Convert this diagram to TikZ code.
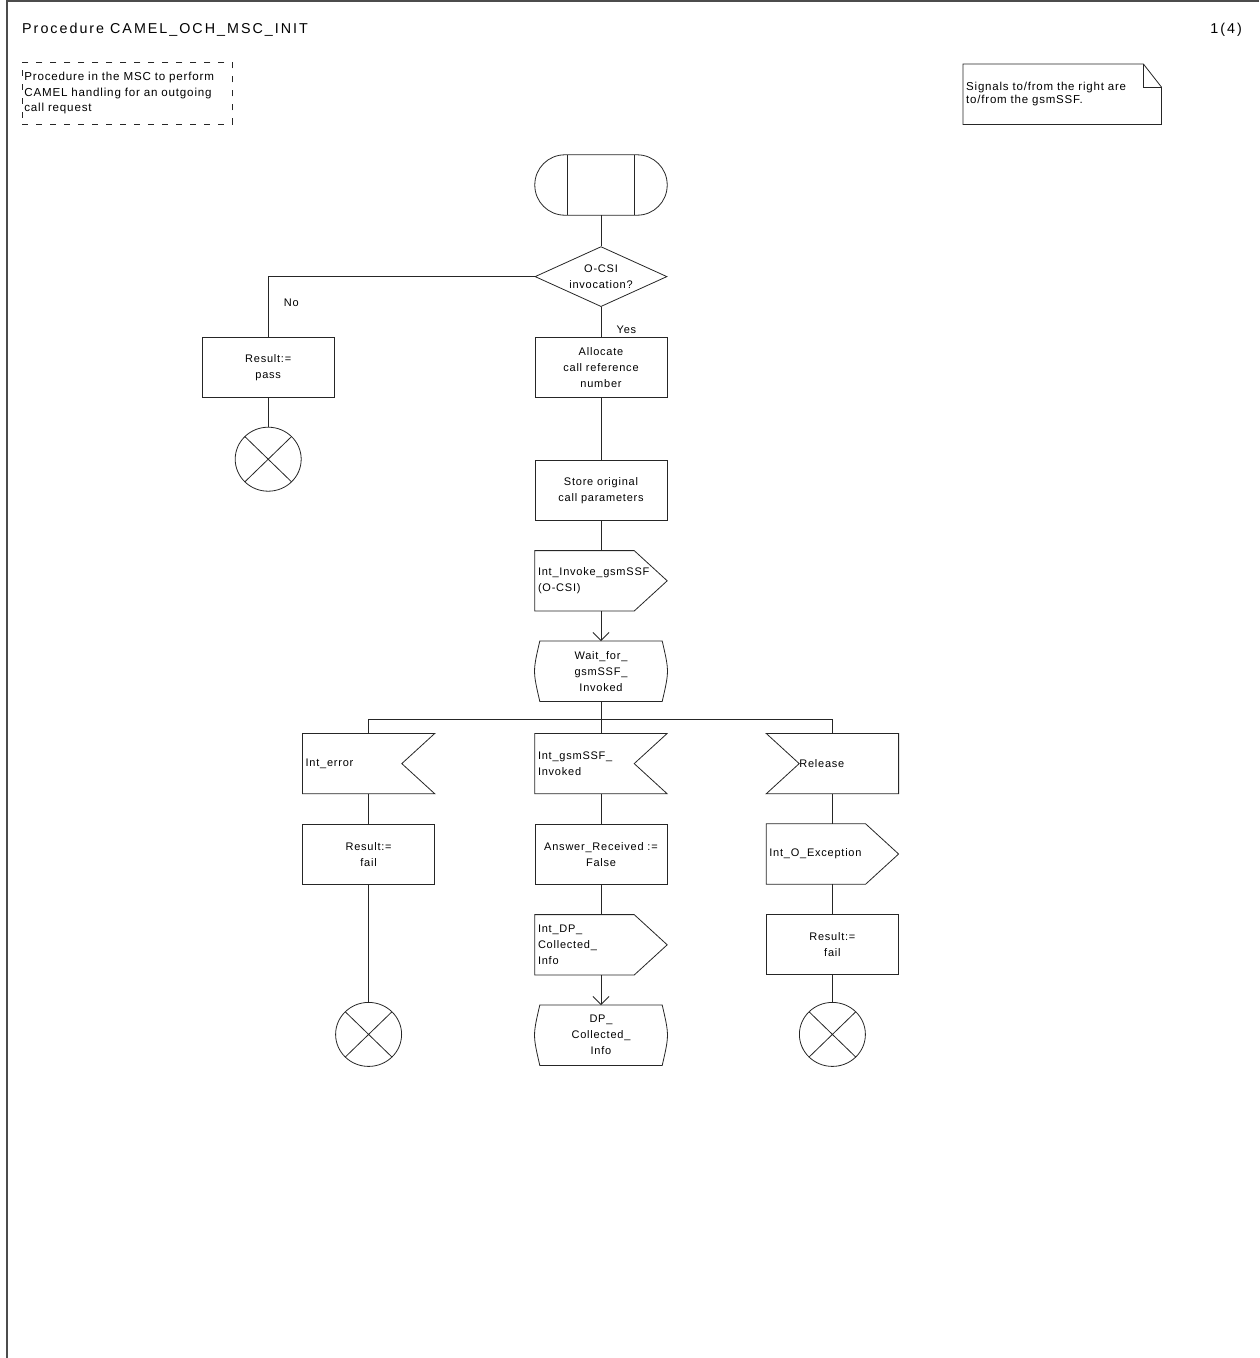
\documentclass[tikz,border=0pt]{standalone}
\usepackage{fontspec}
\setmainfont{Liberation Sans}[LetterSpace=7]
\newfontfamily\titlefamily{Liberation Sans}[LetterSpace=14]
\usepackage{tikz}
\usetikzlibrary{arrows.meta, positioning, shapes.geometric}

\newcommand{\sdlfont}{\fontsize{11}{16}\selectfont}
\newcommand{\titlefont}{\titlefamily\fontsize{14.3}{16}\selectfont}
\newcommand{\notefont}{\fontsize{11.5}{13}\selectfont}

%% outlines of the SDL symbols, drawn round an empty node
\newcommand{\startshape}[1]{%
  \draw[sdlline, rounded corners=30pt] (#1.north west) rectangle (#1.south east);
  \draw[sdlline] ([xshift=33pt]#1.north west) -- ([xshift=33pt]#1.south west)
                 ([xshift=-33pt]#1.north east) -- ([xshift=-33pt]#1.south east);}
\newcommand{\outsigshape}[1]{%
  \draw[sdlline] (#1.north west) -- ([xshift=-33pt]#1.north east) -- (#1.east)
    -- ([xshift=-33pt]#1.south east) -- (#1.south west) -- cycle;}
\newcommand{\insigshape}[1]{%
  \draw[sdlline] (#1.north west) -- (#1.north east) -- ([xshift=-33pt]#1.east)
    -- (#1.south east) -- (#1.south west) -- cycle;}
\newcommand{\insigleftshape}[1]{%
  \draw[sdlline] (#1.north west) -- (#1.north east) -- (#1.south east)
    -- (#1.south west) -- ([xshift=33pt]#1.west) -- cycle;}
\newcommand{\stateshape}[1]{%
  \draw[sdlline] ([xshift=5pt]#1.north west) -- ([xshift=-5pt]#1.north east)
    .. controls ([xshift=2pt]#1.east) .. ([xshift=-5pt]#1.south east)
    -- ([xshift=5pt]#1.south west)
    .. controls ([xshift=-2pt]#1.west) .. ([xshift=5pt]#1.north west) -- cycle;}
\newcommand{\noteshape}[1]{%
  \draw[sdlline] (#1.south west) -- (#1.north west) -- ([xshift=-18pt]#1.north east)
    -- ([yshift=-23pt]#1.north east) -- (#1.south east) -- cycle;
  \draw[sdlline] ([xshift=-18pt]#1.north east) -- ([xshift=-18pt,yshift=-23pt]#1.north east)
    -- ([yshift=-23pt]#1.north east);}

\begin{document}
\begin{tikzpicture}[
  x=1pt, y=-1pt,
  sdlline/.style  = {draw=black!85, line width=0.8pt},
  sdl/.style      = {minimum width=132pt, minimum height=60pt, inner sep=3pt, font=\sdlfont},
  task/.style     = {sdl, sdlline, align=center},
  decision/.style = {diamond, sdlline, minimum width=132pt, minimum height=60pt,
                     aspect=2.2, inner sep=0pt, align=center, font=\sdlfont},
  sigbox/.style   = {sdl, text width=126pt, align=left},
  statebox/.style = {sdl, align=center},
  stopsym/.style  = {ellipse, sdlline, minimum width=66pt, minimum height=64pt, inner sep=0pt,
                     path picture={\draw[sdlline]
                       (path picture bounding box.north west) -- (path picture bounding box.south east)
                       (path picture bounding box.north east) -- (path picture bounding box.south west);}},
  comment/.style  = {draw=black!85, dashed, dash pattern=on 6pt off 8pt, line width=0.7pt,
                     minimum width=210pt, minimum height=62pt, text width=206pt,
                     inner sep=2pt, align=left, font=\fontsize{11.6}{15.5}\selectfont},
  notebox/.style  = {minimum width=198pt, minimum height=60pt, text width=192pt,
                     inner sep=3pt, align=left, font=\notefont},
  arrow/.style    = {sdlline, -{Straight Barb[length=8pt, width=16pt]}},
  frame/.style    = {draw=black!70, line width=1.4pt},
]

%% ==================== PAGE ====================
\useasboundingbox (0,0) rectangle (1259,1358);
\draw[frame] (7,1358) -- (7,1) -- (1259,1);

\node[anchor=west, font=\titlefont, inner sep=0pt] (title) at (22,30) {Procedure CAMEL\_OCH\_MSC\_INIT};
\node[anchor=east, font=\titlefont, inner sep=0pt] (page) at (1242,30) {1(4)};

\node[comment, anchor=north west] (purpose) at (22,62)
      {Procedure in the MSC to perform\\CAMEL handling for an outgoing\\call request};

\node[notebox, anchor=north west] (note) at (963,64)
      {Signals to/from the right are\\to/from the gsmSSF.};
\noteshape{note}

%% ==================== MAIN COLUMN ====================
\node[sdl] (start) at (601,185) {};
\startshape{start}

\node[decision, below=31pt of start] (csi) {O-CSI\\invocation?};
\node[task, below=30pt of csi] (alloc) {Allocate\\call reference\\number};
\node[task, left=200pt of alloc] (respass) {Result:=\\pass};
\node[stopsym, below=29pt of respass] (endpass) {};

\node[task, below=62pt of alloc] (store) {Store original\\call parameters};
\node[sigbox, below=30pt of store] (invoke) {Int\_Invoke\_gsmSSF\\(O-CSI)};
\outsigshape{invoke}
\node[statebox, below=30pt of invoke] (wait) {Wait\_for\_\\gsmSSF\_\\Invoked};
\stateshape{wait}
\coordinate[below=18pt of wait] (bus);

%% ==================== INPUTS ====================
\node[sigbox, below=32pt of wait] (gotinv) {Int\_gsmSSF\_\\Invoked};
\insigshape{gotinv}
\node[sigbox, left=100pt of gotinv] (interr) {Int\_error};
\insigshape{interr}
\node[sigbox, right=99pt of gotinv] (release) {\hspace*{30pt}Release};
\insigleftshape{release}

%% left branch
\node[task, below=30pt of interr] (resfail) {Result:=\\fail};

%% middle branch
\node[task, below=30pt of gotinv] (ansrec) {Answer\_Received :=\\False};
\node[sigbox, below=30pt of ansrec] (dpinfo) {Int\_DP\_\\Collected\_\\Info};
\outsigshape{dpinfo}
\node[statebox, below=30pt of dpinfo] (dpstate) {DP\_\\Collected\_\\Info};
\stateshape{dpstate}

%% right branch
\node[sigbox, below=30pt of release] (oexc) {Int\_O\_Exception};
\outsigshape{oexc}
\node[task, below=30pt of oexc] (relfail) {Result:=\\fail};
\node[stopsym, below=27pt of relfail] (endrel) {};
\node[stopsym] (endfail) at (resfail |- endrel) {};

%% ==================== CONNECTORS ====================
\draw[sdlline] (start) -- (csi);
\draw[sdlline] (csi.west) -| node[pos=0.72, right=12pt, font=\sdlfont] {No} (respass.north);
\draw[sdlline] (csi) -- node[pos=0.75, right=12pt, font=\sdlfont] {Yes} (alloc);
\draw[sdlline] (respass) -- (endpass);
\draw[sdlline] (alloc) -- (store);
\draw[sdlline] (store) -- (invoke);
\draw[arrow] (invoke) -- (wait);
\draw[sdlline] (wait) -- (gotinv);
\draw[sdlline] (interr.north) |- (bus) -| (release.north);

\draw[sdlline] (interr) -- (resfail);
\draw[sdlline] (resfail) -- (endfail);
\draw[sdlline] (gotinv) -- (ansrec);
\draw[sdlline] (ansrec) -- (dpinfo);
\draw[arrow] (dpinfo) -- (dpstate);
\draw[sdlline] (release) -- (oexc);
\draw[sdlline] (oexc) -- (relfail);
\draw[sdlline] (relfail) -- (endrel);

\end{tikzpicture}
\end{document}
